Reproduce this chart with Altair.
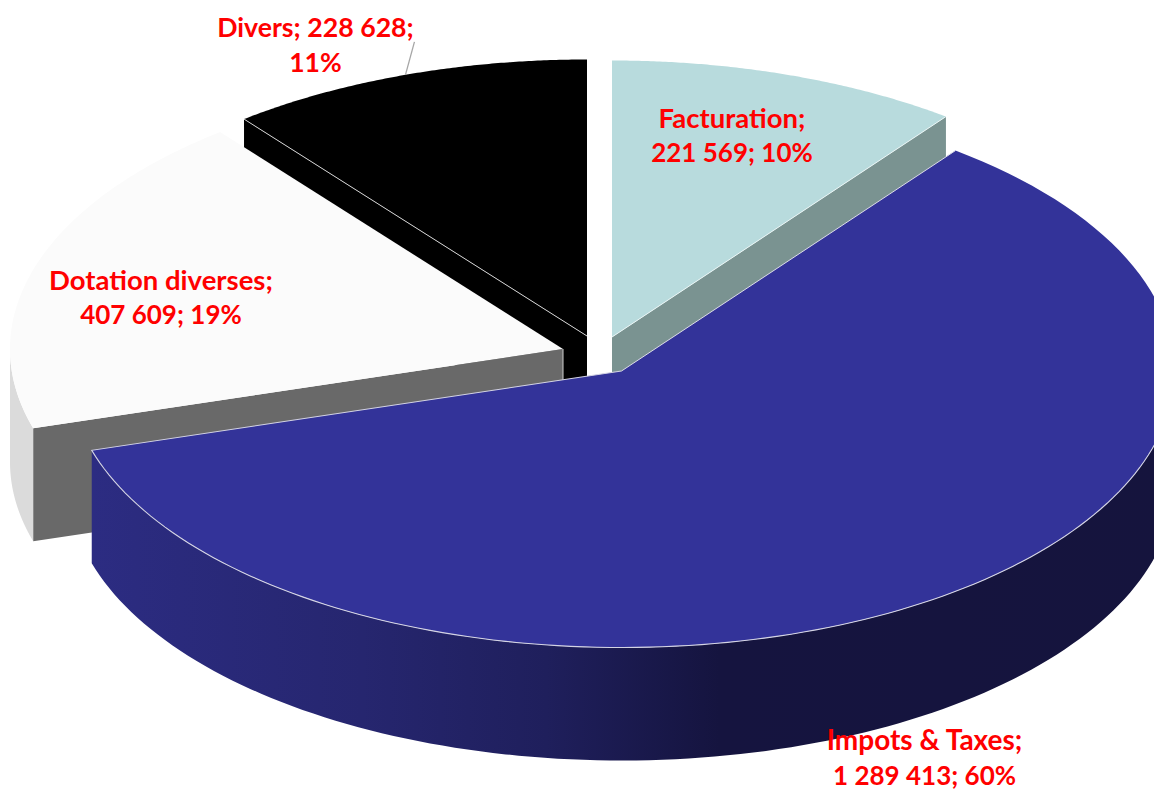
import math
import altair as alt
import pandas as pd

names = ["Facturation", "Impots & Taxes", "Dotation diverses", "Divers"]
values = [221569, 1289413, 407609, 228628]
percents = [10, 60, 19, 11]
label_lines = [
    ["Facturation;", "221 569; 10%"],
    ["Impots & Taxes;", "1 289 413; 60%"],
    ["Dotation diverses;", "407 609; 19%"],
    ["Divers; 228 628;", "11%"],
]
label_sizes = [[27.5, 26], [28, 26], [27.5, 26], [26.7, 26.5]]
top_colors = ["#b8dbdd", "#333399", "#fbfbfb", "#000000"]
wall_colors = ["#7a9391", "#2b2b80", "#696969", "#000000"]

# projected pie geometry
A, B, DEPTH = 553.0, 276.5, 113.0
apex = [(612, 337), (621.5, 371), (563, 349), (587, 336)]
label_frac = [(0.217, -0.723), (0.548, 1.405), (-0.727, -0.181), (-0.491, -1.047)]

total = sum(values)
starts, ends, acc = [], [], 0.0
for v in values:
    starts.append(acc / total * 2 * math.pi)
    acc += v
    ends.append(acc / total * 2 * math.pi)


def rim(i, t0, t1, dz=0.0, n=120):
    cx, cy = apex[i]
    return [
        (cx + A * math.sin(t0 + (t1 - t0) * k / n),
         cy - B * math.cos(t0 + (t1 - t0) * k / n) + dz)
        for k in range(n + 1)
    ]


def frame(pts):
    return pd.DataFrame({"x": [p[0] for p in pts], "y": [p[1] for p in pts], "i": range(len(pts))})


X = alt.X("x:Q", scale=alt.Scale(domain=[8, 1154]), axis=None)
Y = alt.Y("y:Q", scale=alt.Scale(domain=[8, 791], reverse=True), axis=None)


def shape(pts, fill):
    return (
        alt.Chart(frame(pts + pts[:1]))
        .mark_line(fill=fill, stroke=None, strokeWidth=0, clip=True, interpolate="linear")
        .encode(x=X, y=Y, order="i:Q")
    )


def edge(pts, color="#e4e4ec", width=1.0):
    return (
        alt.Chart(frame(pts))
        .mark_line(stroke=color, strokeWidth=width, clip=True)
        .encode(x=X, y=Y, order="i:Q")
    )


def top(i):
    return [apex[i]] + rim(i, starts[i], ends[i])


def cut_wall(i, t):
    cx, cy = apex[i]
    ox = cx + A * math.sin(t)
    oy = cy - B * math.cos(t)
    return [(cx, cy), (ox, oy), (ox, oy + DEPTH), (cx, cy + DEPTH)]


def outer_wall(i, t0, t1):
    return rim(i, t0, t1) + rim(i, t1, t0, DEPTH)


blue_gradient = alt.LinearGradient(
    gradient="linear", x1=0, x2=1, y1=0, y2=0,
    stops=[
        alt.GradientStop(offset=0.0, color="#2c2c82"),
        alt.GradientStop(offset=0.25, color="#26266f"),
        alt.GradientStop(offset=0.42, color="#1f1f5c"),
        alt.GradientStop(offset=0.58, color="#15143f"),
        alt.GradientStop(offset=1.0, color="#15143d"),
    ],
)

layers = []
# Divers (back-left, black)
layers += [
    shape(cut_wall(3, starts[3]), wall_colors[3]),
    shape(top(3), top_colors[3]),
    edge([rim(3, starts[3], starts[3], n=1)[0], apex[3]], "#cfcfcf"),
]
# Dotation diverses
layers += [
    shape(outer_wall(2, starts[2], 1.5 * math.pi), "#dbdbdb"),
    shape(cut_wall(2, starts[2]), wall_colors[2]),
    shape(top(2), top_colors[2]),
    edge([(apex[2][0], apex[2][1]), (apex[2][0], apex[2][1] + DEPTH)], "#cfcfcf"),
]
# Facturation
layers += [
    shape(cut_wall(0, ends[0]), wall_colors[0]),
    shape(top(0), top_colors[0]),
    edge([apex[0], rim(0, ends[0], ends[0], n=1)[0]], "#e8f4f4"),
]
# Impots & Taxes
layers += [
    shape(outer_wall(1, 0.5 * math.pi, ends[1]), blue_gradient),
    shape(top(1), top_colors[1]),
    edge(rim(1, 0.5 * math.pi, ends[1]) + [apex[1]], "#d4d4e4", 1.1),
    edge([apex[1], rim(1, starts[1], starts[1], n=1)[0]], "#dcdce8", 1.0),
]

# leader line of the Divers label
mid = (starts[3] + ends[3]) / 2
lx, ly = rim(3, mid, mid, n=1)[0]
leader = pd.DataFrame({"x": [lx], "y": [ly], "x2": [lx + 9], "y2": [ly - 33]})
layers.append(
    alt.Chart(leader).mark_rule(stroke="#a6a6a6", strokeWidth=1.3).encode(x=X, y=Y, x2="x2:Q", y2="y2:Q")
)

# labels
rows = []
for i, lines in enumerate(label_lines):
    lxc = apex[i][0] + label_frac[i][0] * A
    lyc = apex[i][1] + label_frac[i][1] * B
    for j, txt in enumerate(lines):
        rows.append({"x": lxc, "y": lyc + (j - 0.5) * 34.5, "t": txt, "fs": label_sizes[i][j]})
for r in rows:
    layers.append(
        alt.Chart(pd.DataFrame([r]))
        .mark_text(font="Lato", fontWeight="bold", fontSize=r["fs"], color="#ff0000", baseline="middle", align="center")
        .encode(x=X, y=Y, text="t:N")
    )

chart = (
    alt.layer(*layers)
    .properties(width=1146, height=783, padding=0, autosize=alt.AutoSizeParams(type="none"), background="white")
    .configure_view(stroke=None)
)
chart.save("out.html", embed_options={"renderer": "svg", "actions": False})
